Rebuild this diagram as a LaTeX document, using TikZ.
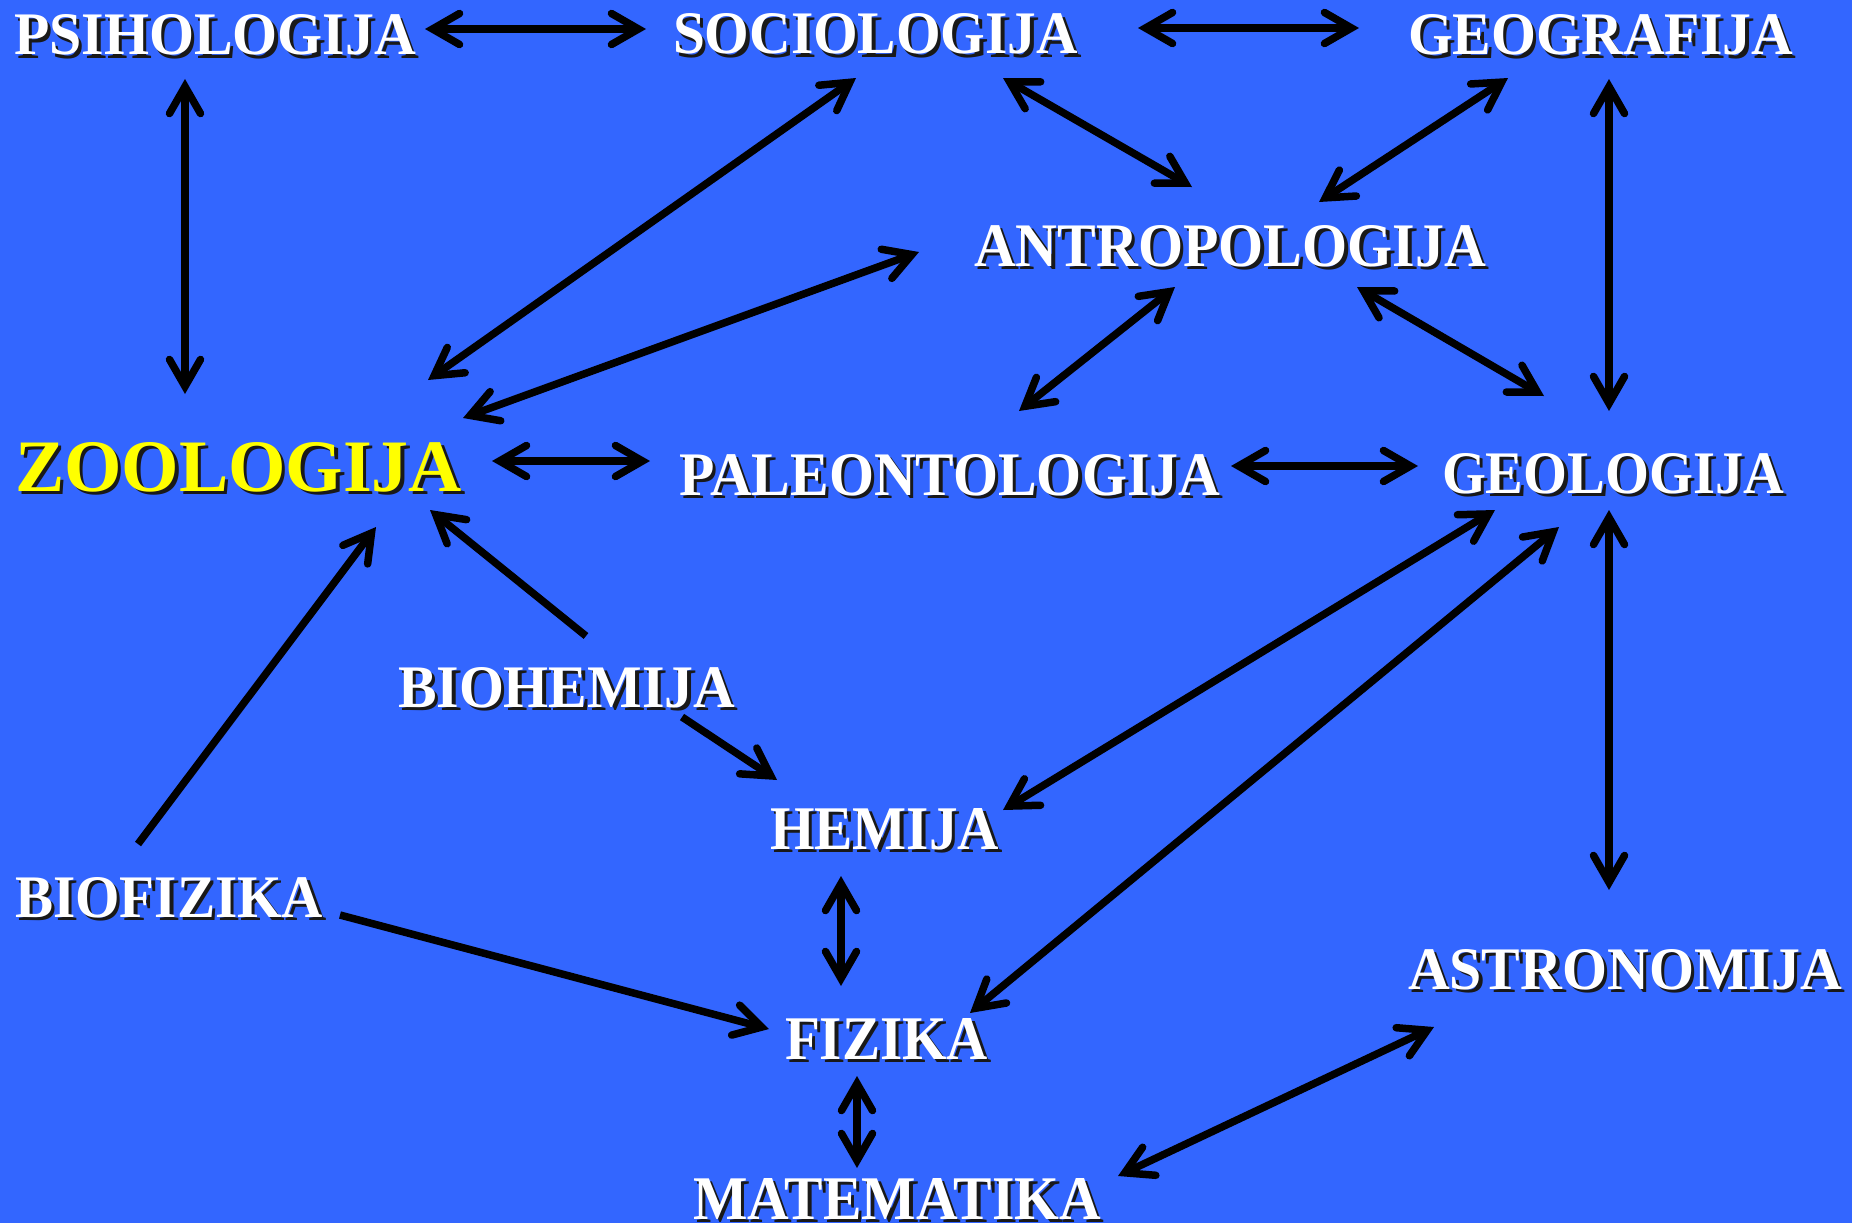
\documentclass[tikz,border=0pt]{standalone}
\usepackage{fontspec}
\setmainfont{Liberation Serif}
\usepackage{graphicx}
\usetikzlibrary{arrows.meta}
\definecolor{bg}{HTML}{3366FF}
\definecolor{zyel}{HTML}{FFFF00}
\newcommand\shtxt[4][white]{%
  \leavevmode\rlap{\kern3.5pt\raisebox{-3.5pt}{\color{black!90}\resizebox{#2}{#3}{\bfseries #4}}}%
  {\color{#1}\resizebox{#2}{#3}{\bfseries #4}}}
\tikzset{
  lbl/.style={inner sep=0pt, outer sep=0pt, anchor=base west},
  barb/.tip={Straight Barb[length=27pt,width=31pt,line cap=round,line join=miter]},
  conn/.style={line width=7.5pt, draw=black},
  two/.style={conn, barb-barb},
  one/.style={conn, -barb},
}
\begin{document}
\begin{tikzpicture}[x=1pt,y=-1pt]
\useasboundingbox (0,0) rectangle (1852,1223);
\fill[bg] (0,0) rectangle (1852,1223);

% labels
\node[lbl] (psi) at (14,55) {\shtxt{402pt}{40pt}{PSIHOLOGIJA}};
\node[lbl] (soc) at (673,54) {\shtxt{405pt}{40pt}{SOCIOLOGIJA}};
\node[lbl] (geog) at (1408,55) {\shtxt{385pt}{40pt}{GEOGRAFIJA}};
\node[lbl] (ant) at (974,266) {\shtxt{512pt}{41pt}{ANTROPOLOGIJA}};
\node[lbl] (zoo) at (15,491) {\shtxt[zyel]{447pt}{49pt}{ZOOLOGIJA}};
\node[lbl] (pal) at (679,495) {\shtxt{541pt}{41pt}{PALEONTOLOGIJA}};
\node[lbl] (geol) at (1442,493) {\shtxt{342pt}{40pt}{GEOLOGIJA}};
\node[lbl] (bioh) at (398,707) {\shtxt{337pt}{40pt}{BIOHEMIJA}};
\node[lbl] (hem) at (770,849) {\shtxt{229pt}{41pt}{HEMIJA}};
\node[lbl] (biof) at (15,917) {\shtxt{308pt}{40pt}{BIOFIZIKA}};
\node[lbl] (astro) at (1408,989) {\shtxt{434pt}{40pt}{ASTRONOMIJA}};
\node[lbl] (fiz) at (785,1059) {\shtxt{203pt}{41pt}{FIZIKA}};
\node[lbl] (mat) at (693,1219) {\shtxt{408pt}{41pt}{MATEMATIKA}};

% connector end points
\coordinate (psi-e) at (425,29);
\coordinate (soc-w) at (646,29);
\coordinate (soc-e) at (1138,28);
\coordinate (geog-w) at (1359,28);
\coordinate (psi-s) at (185,79);
\coordinate (zoo-n) at (185,394);
\coordinate (soc-sw) at (856,78);
\coordinate (zoo-ne) at (428,380);
\coordinate (soc-se) at (1003,78);
\coordinate (ant-nw) at (1192,187);
\coordinate (geog-sw) at (1508,78);
\coordinate (ant-ne) at (1319,202);
\coordinate (geog-s) at (1609,79);
\coordinate (geol-n) at (1609,411);
\coordinate (ant-w) at (919,252);
\coordinate (zoo-ene) at (463,418);
\coordinate (ant-sw) at (1175,287);
\coordinate (pal-n) at (1019,411);
\coordinate (ant-se) at (1357,287);
\coordinate (geol-nw) at (1544,396);
\coordinate (zoo-e) at (492,461);
\coordinate (pal-w) at (650,461);
\coordinate (pal-e) at (1231,466);
\coordinate (geol-w) at (1418,466);
\coordinate (bioh-n) at (586,636);
\coordinate (zoo-se) at (430,510);
\coordinate (biof-n) at (138,844);
\coordinate (zoo-s) at (376,527);
\coordinate (bioh-se) at (682,717);
\coordinate (hem-nw) at (777,780);
\coordinate (geol-sw) at (1495,510);
\coordinate (hem-e) at (1003,810);
\coordinate (geol-ssw) at (1559,527);
\coordinate (fiz-ne) at (970,1013);
\coordinate (geol-s) at (1609,510);
\coordinate (astro-n) at (1609,890);
\coordinate (hem-s) at (841,876);
\coordinate (fiz-n) at (841,986);
\coordinate (biof-e) at (340,915);
\coordinate (fiz-w) at (769,1029);
\coordinate (fiz-s) at (857,1076);
\coordinate (mat-n) at (857,1168);
\coordinate (astro-sw) at (1434,1027);
\coordinate (mat-ne) at (1118,1176);

% connectors
\draw[two] (psi-e) -- (soc-w);
\draw[two] (soc-e) -- (geog-w);
\draw[two] (psi-s) -- (zoo-n);
\draw[two] (soc-sw) -- (zoo-ne);
\draw[two] (soc-se) -- (ant-nw);
\draw[two] (geog-sw) -- (ant-ne);
\draw[two] (geog-s) -- (geol-n);
\draw[two] (ant-w) -- (zoo-ene);
\draw[two] (ant-sw) -- (pal-n);
\draw[two] (ant-se) -- (geol-nw);
\draw[two] (zoo-e) -- (pal-w);
\draw[two] (pal-e) -- (geol-w);
\draw[one] (bioh-n) -- (zoo-se);
\draw[one] (biof-n) -- (zoo-s);
\draw[one] (bioh-se) -- (hem-nw);
\draw[two] (geol-sw) -- (hem-e);
\draw[two] (geol-ssw) -- (fiz-ne);
\draw[two] (geol-s) -- (astro-n);
\draw[two] (hem-s) -- (fiz-n);
\draw[one] (biof-e) -- (fiz-w);
\draw[two] (fiz-s) -- (mat-n);
\draw[two] (astro-sw) -- (mat-ne);
\end{tikzpicture}
\end{document}
